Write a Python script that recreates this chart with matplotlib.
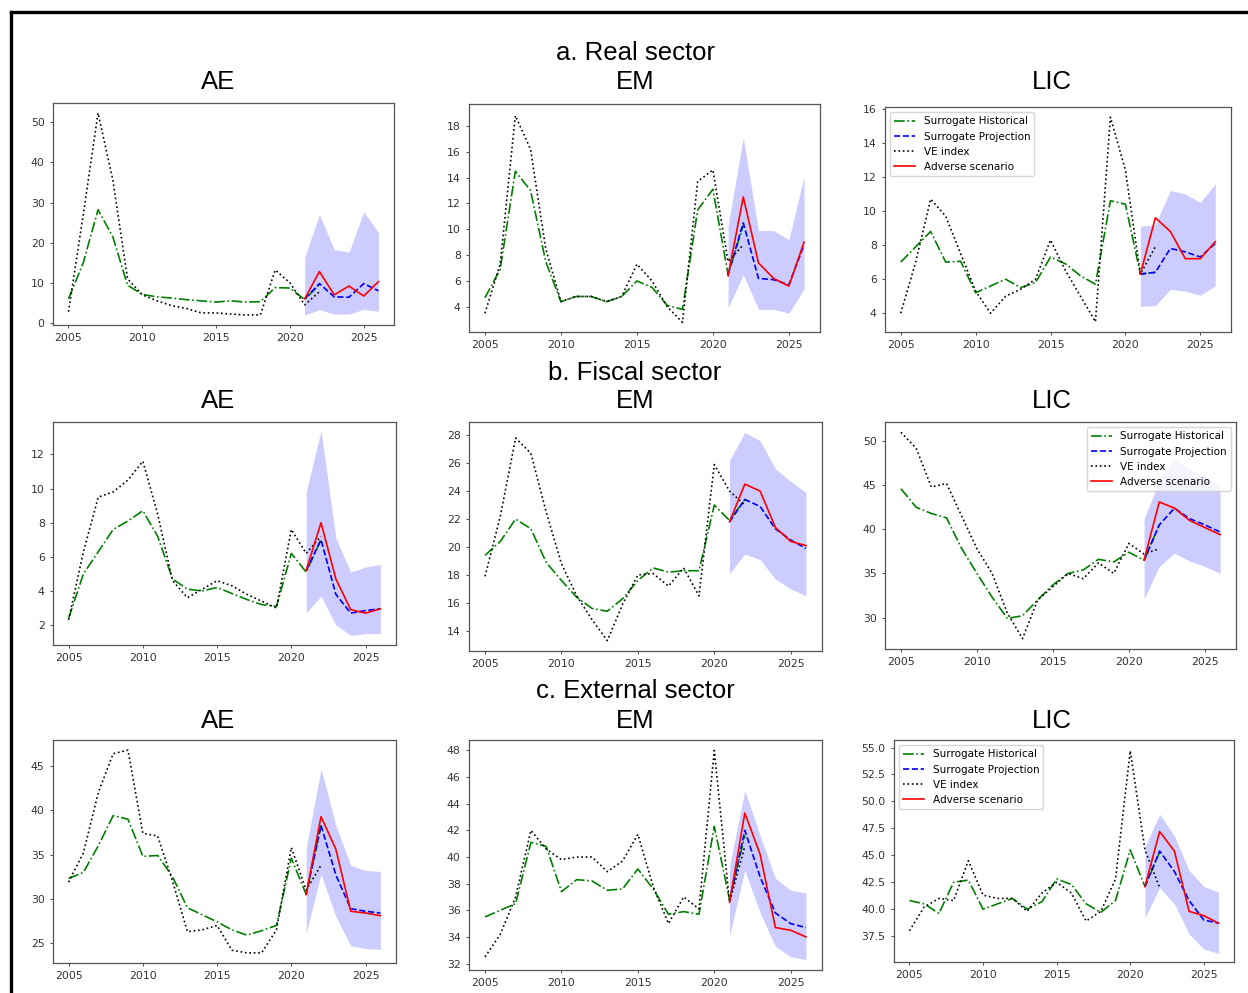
import matplotlib
matplotlib.use("Agg")
import matplotlib.pyplot as plt
from matplotlib.lines import Line2D

W, H = 1248, 993

hist_years = list(range(2005, 2023))
proj_years = list(range(2021, 2027))

# a. Real sector
ae_real_hist = [6.0, 15.0, 28.2, 21.5, 9.4, 7.1, 6.5, 6.2, 5.8, 5.5, 5.2, 5.5, 5.2, 5.3, 8.8, 8.7, 5.8, 9.6]
ae_real_ve = [2.8, 27.0, 52.3, 35.7, 11.0, 7.0, 5.5, 4.3, 3.6, 2.5, 2.5, 2.2, 2.0, 2.0, 13.2, 10.0, 4.5, 7.8]
ae_real_proj = [6.0, 9.8, 6.5, 6.4, 9.8, 8.0]
ae_real_adv = [6.0, 12.8, 7.0, 9.2, 6.7, 10.3]
ae_real_hi = [16.5, 27.0, 18.3, 17.6, 27.7, 22.5]
ae_real_lo = [2.0, 3.3, 2.2, 2.2, 3.4, 2.9]

em_real_hist = [4.7, 6.9, 14.5, 13.0, 7.5, 4.4, 4.8, 4.8, 4.4, 4.8, 6.0, 5.5, 4.1, 3.8, 11.5, 13.1, 6.5, 10.3]
em_real_ve = [3.5, 7.3, 18.8, 16.2, 8.5, 4.4, 4.8, 4.8, 4.4, 4.8, 7.3, 6.0, 4.0, 2.8, 13.7, 14.6, 7.5, 8.8]
em_real_proj = [6.5, 10.5, 6.2, 6.1, 5.7, 8.8]
em_real_adv = [6.4, 12.5, 7.4, 6.2, 5.6, 9.0]
em_real_hi = [10.3, 17.1, 9.9, 9.9, 9.2, 14.1]
em_real_lo = [3.9, 6.5, 3.8, 3.8, 3.5, 5.4]

lic_real_hist = [7.0, 7.9, 8.8, 7.0, 7.05, 5.2, 5.6, 6.0, 5.5, 5.8, 7.3, 6.9, 6.2, 5.7, 10.6, 10.4, 6.3, 6.4]
lic_real_ve = [4.0, 7.0, 10.7, 9.7, 7.5, 5.3, 4.0, 5.0, 5.4, 6.0, 8.3, 6.5, 5.0, 3.5, 15.5, 12.4, 6.3, 7.9]
lic_real_proj = [6.3, 6.4, 7.8, 7.6, 7.3, 8.1]
lic_real_adv = [6.3, 9.6, 8.8, 7.2, 7.2, 8.2]
lic_real_hi = [9.1, 9.2, 11.2, 11.0, 10.5, 11.6]
lic_real_lo = [4.4, 4.45, 5.4, 5.3, 5.05, 5.6]

# b. Fiscal sector
ae_fisc_hist = [2.4, 5.0, 6.3, 7.6, 8.1, 8.7, 7.2, 4.7, 4.1, 4.0, 4.2, 3.85, 3.5, 3.2, 3.1, 6.2, 5.1, 7.0]
ae_fisc_ve = [2.3, 6.3, 9.5, 9.8, 10.5, 11.6, 8.5, 4.6, 3.6, 4.1, 4.6, 4.3, 3.8, 3.4, 3.0, 7.6, 6.2, 7.2]
ae_fisc_proj = [5.2, 7.0, 3.8, 2.7, 2.85, 2.95]
ae_fisc_adv = [5.2, 8.0, 4.7, 2.9, 2.7, 2.95]
ae_fisc_hi = [9.8, 13.4, 7.1, 5.1, 5.4, 5.55]
ae_fisc_lo = [2.7, 3.7, 2.0, 1.4, 1.5, 1.5]

em_fisc_hist = [19.4, 20.4, 22.0, 21.3, 18.9, 17.6, 16.4, 15.6, 15.4, 16.3, 17.6, 18.5, 18.2, 18.3, 18.3, 23.0, 21.9, 23.4]
em_fisc_ve = [17.9, 22.2, 27.8, 26.7, 22.5, 18.8, 16.5, 14.8, 13.3, 15.9, 18.0, 18.1, 17.2, 18.5, 16.5, 25.9, 24.0, 23.0]
em_fisc_proj = [21.8, 23.4, 22.9, 21.3, 20.5, 19.9]
em_fisc_adv = [21.8, 24.5, 24.0, 21.4, 20.4, 20.1]
em_fisc_hi = [26.2, 28.2, 27.6, 25.6, 24.7, 23.9]
em_fisc_lo = [18.1, 19.5, 19.1, 17.7, 17.0, 16.5]

lic_fisc_hist = [44.6, 42.5, 41.8, 41.3, 37.8, 35.0, 32.3, 29.9, 30.2, 32.0, 33.7, 35.0, 35.4, 36.6, 36.3, 37.4, 36.5, 40.5]
lic_fisc_ve = [51.0, 49.2, 44.8, 45.2, 41.5, 37.8, 35.0, 30.5, 27.6, 32.0, 33.5, 35.0, 34.4, 36.2, 35.0, 38.4, 37.2, 37.8]
lic_fisc_proj = [36.5, 40.5, 42.4, 41.2, 40.5, 39.7]
lic_fisc_adv = [36.5, 43.1, 42.4, 41.0, 40.2, 39.4]
lic_fisc_hi = [41.2, 45.5, 47.9, 46.8, 46.0, 44.9]
lic_fisc_lo = [32.1, 35.8, 37.3, 36.4, 35.8, 35.0]

# c. External sector
ae_ext_hist = [32.3, 33.0, 36.0, 39.4, 39.0, 34.8, 34.9, 32.5, 29.0, 28.2, 27.4, 26.5, 25.9, 26.4, 27.0, 34.6, 30.5, 38.3]
ae_ext_ve = [31.9, 35.2, 42.0, 46.4, 46.8, 37.4, 37.1, 32.0, 26.3, 26.5, 27.0, 24.2, 23.9, 23.9, 26.5, 35.8, 31.0, 33.8]
ae_ext_proj = [30.5, 38.3, 32.7, 28.9, 28.6, 28.4]
ae_ext_adv = [30.5, 39.3, 35.6, 28.6, 28.4, 28.1]
ae_ext_hi = [35.7, 44.7, 38.3, 33.8, 33.2, 33.1]
ae_ext_lo = [26.1, 32.8, 28.0, 24.7, 24.4, 24.3]

em_ext_hist = [35.5, 36.0, 36.5, 41.1, 40.8, 37.4, 38.3, 38.2, 37.5, 37.6, 39.1, 37.6, 35.7, 35.9, 35.7, 42.3, 36.8, 41.6]
em_ext_ve = [32.5, 34.2, 37.0, 42.0, 40.6, 39.8, 40.0, 40.0, 38.9, 39.7, 41.7, 37.8, 35.0, 37.0, 36.1, 48.0, 36.6, 40.8]
em_ext_proj = [36.7, 42.0, 38.5, 35.8, 35.0, 34.7]
em_ext_adv = [36.6, 43.3, 40.2, 34.7, 34.5, 34.0]
em_ext_hi = [39.3, 45.0, 41.6, 38.4, 37.5, 37.3]
em_ext_lo = [34.1, 39.0, 35.8, 33.3, 32.5, 32.3]

lic_ext_hist = [40.8, 40.5, 39.6, 42.5, 42.7, 40.0, 40.5, 41.0, 40.0, 40.7, 42.8, 42.3, 40.5, 39.7, 40.8, 45.5, 42.1, 45.3]
lic_ext_ve = [38.0, 40.2, 41.0, 40.8, 44.5, 41.3, 41.0, 41.0, 39.8, 41.5, 42.5, 41.5, 38.9, 39.8, 42.8, 54.7, 45.5, 42.0]
lic_ext_proj = [42.1, 45.4, 43.5, 40.8, 39.0, 38.7]
lic_ext_adv = [42.1, 47.2, 45.4, 39.8, 39.4, 38.7]
lic_ext_hi = [45.8, 48.8, 46.8, 43.6, 42.1, 41.6]
lic_ext_lo = [39.2, 42.0, 40.5, 37.7, 36.3, 35.9]

sector_titles = ["a. Real sector", "b. Fiscal sector", "c. External sector"]
groups = ["AE", "EM", "LIC"]

panels = [
    [(ae_real_hist, ae_real_ve, ae_real_proj, ae_real_adv, ae_real_hi, ae_real_lo),
     (em_real_hist, em_real_ve, em_real_proj, em_real_adv, em_real_hi, em_real_lo),
     (lic_real_hist, lic_real_ve, lic_real_proj, lic_real_adv, lic_real_hi, lic_real_lo)],
    [(ae_fisc_hist, ae_fisc_ve, ae_fisc_proj, ae_fisc_adv, ae_fisc_hi, ae_fisc_lo),
     (em_fisc_hist, em_fisc_ve, em_fisc_proj, em_fisc_adv, em_fisc_hi, em_fisc_lo),
     (lic_fisc_hist, lic_fisc_ve, lic_fisc_proj, lic_fisc_adv, lic_fisc_hi, lic_fisc_lo)],
    [(ae_ext_hist, ae_ext_ve, ae_ext_proj, ae_ext_adv, ae_ext_hi, ae_ext_lo),
     (em_ext_hist, em_ext_ve, em_ext_proj, em_ext_adv, em_ext_hi, em_ext_lo),
     (lic_ext_hist, lic_ext_ve, lic_ext_proj, lic_ext_adv, lic_ext_hi, lic_ext_lo)],
]

# axes boxes in pixels: left, top, right, bottom
boxes = [
    [(53, 103, 394, 325), (469, 104, 820, 332), (885, 107, 1231, 332)],
    [(53, 422, 396, 645), (469, 422, 822, 651), (885, 422, 1236, 649)],
    [(53, 740, 396, 963), (469, 740, 822, 970), (894, 740, 1234, 962)],
]
ylims = {(0, 1): (2.05, 19.7), (1, 0): (0.83, 13.9), (2, 2): (35.1, 55.7)}
legend_loc = {(0, 2): "upper left", (1, 2): "upper right", (2, 2): "upper left"}
sector_y = [53, 373, 691]
group_y = [82, 401, 721]
group_x = [218, 635, 1052]

title_font = dict(family="Liberation Sans", fontsize=18.5)

fig = plt.figure(figsize=(W / 100, H / 100), dpi=100)

for r in range(3):
    fig.text(635 / W, 1 - sector_y[r] / H, sector_titles[r], ha="center", va="center", **title_font)
    for c in range(3):
        fig.text(group_x[c] / W, 1 - group_y[r] / H, groups[c], ha="center", va="center", **title_font)
        l, t, rr, b = boxes[r][c]
        ax = fig.add_axes([l / W, 1 - b / H, (rr - l) / W, (b - t) / H])
        hist, ve, proj, adv, hi, lo = panels[r][c]
        ax.fill_between(proj_years, lo, hi, color="blue", alpha=0.2, linewidth=0)
        ax.plot(hist_years, hist, color="green", linestyle="-.", lw=1.2, label="Surrogate Historical")
        ax.plot(proj_years, proj, color="blue", linestyle="--", lw=1.2, label="Surrogate Projection")
        ax.plot(hist_years, ve, color="black", linestyle=":", lw=1.2, label="VE index")
        ax.plot(proj_years, adv, color="red", linestyle="-", lw=1.2, label="Adverse scenario")
        ax.set_xticks([2005, 2010, 2015, 2020, 2025])
        if (r, c) in ylims:
            ax.set_ylim(*ylims[(r, c)])
        ax.tick_params(labelsize=7.8, length=2.5, width=0.6, colors="#333333")
        for s in ax.spines.values():
            s.set_color("#555555")
            s.set_linewidth(0.9)
        if (r, c) in legend_loc:
            ax.legend(loc=legend_loc[(r, c)], fontsize=7.5, borderpad=0.4)

# outer frame (top and left edges)
fig.add_artist(Line2D([10.5 / W, 1], [1 - 11.5 / H, 1 - 11.5 / H], color="black", lw=2.4, transform=fig.transFigure))
fig.add_artist(Line2D([10.5 / W, 10.5 / W], [0, 1 - 11.5 / H], color="black", lw=2.4, transform=fig.transFigure))

fig.savefig("out.png", dpi=100)
